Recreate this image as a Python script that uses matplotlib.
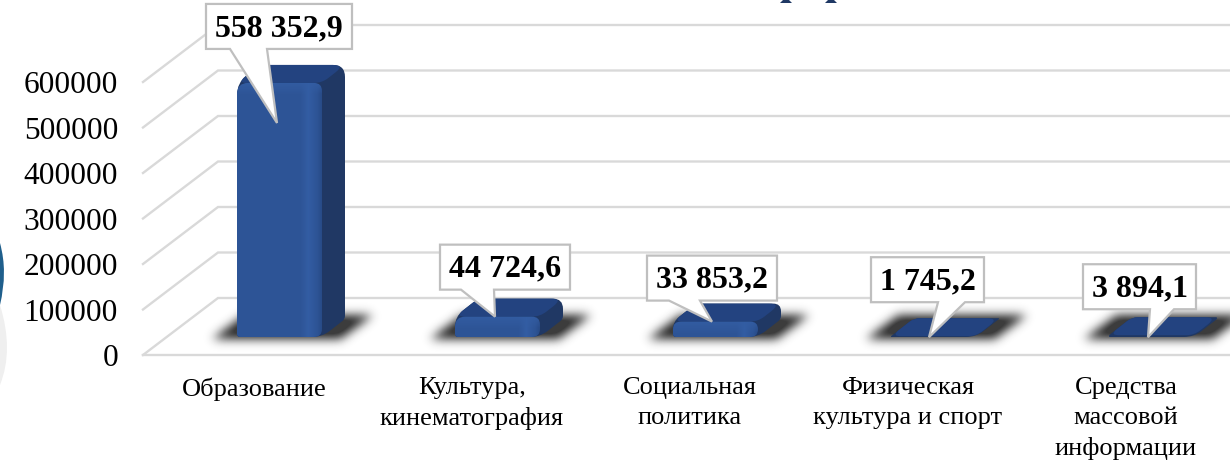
import numpy as np
import matplotlib
matplotlib.use("Agg")
import matplotlib.pyplot as plt
from matplotlib.path import Path
from matplotlib.patches import PathPatch, Polygon
from matplotlib.transforms import IdentityTransform

categories = ["Образование", "Культура,\nкинематография", "Социальная\nполитика",
              "Физическая\nкультура и спорт", "Средства\nмассовой\nинформации"]
values = [558352.9, 44724.6, 33853.2, 1745.2, 3894.1]
y_ticks = [0, 100000, 200000, 300000, 400000, 500000, 600000]

W, H = 1230, 465
plt.rcParams["font.family"] = ["Liberation Serif", "DejaVu Serif"]
fig = plt.figure(figsize=(W / 100, H / 100), dpi=100)

# front plane of the fake 3d box, in pixels from the top left of the picture
left, right, y_zero, y_top = 143, 1230, 355, 82
ax = fig.add_axes([left / W, 1 - y_zero / H, (right - left) / W, (y_zero - y_top) / H])
ax.set_xlim((left - 254) / 218, (right - 254) / 218)
ax.set_ylim(0, 600000)
for s in ax.spines.values():
    s.set_visible(False)
ax.patch.set_alpha(0)

ident = IdentityTransform()
GRID = "#d9d9d9"
# floor depth of the box and of the bars
box_dx, box_dy = 75, 57
bar_off = (25.5, 18)
bar_dx, bar_dy = 23, 18
bar_w = 85


def rounded(points, radii):
    # closed path through the corners, each corner cut with a quadratic curve
    pts = np.array(points, dtype=float)
    n = len(pts)
    verts, codes = [], []
    for k in range(n):
        p, a, b = pts[k], pts[k - 1], pts[(k + 1) % n]
        la, lb = np.linalg.norm(a - p), np.linalg.norm(b - p)
        r = min(radii[k], la / 2, lb / 2)
        p1 = p + (a - p) / max(la, 1e-6) * r
        p2 = p + (b - p) / max(lb, 1e-6) * r
        verts.append(p1)
        codes.append(Path.MOVETO if k == 0 else Path.LINETO)
        verts += [p, p2]
        codes += [Path.CURVE3, Path.CURVE3]
    verts.append(verts[0])
    codes.append(Path.CLOSEPOLY)
    return Path(verts, codes)


def shadow(xl, y0):
    # blurred dark parallelogram on the floor, y0 is the bar base in display pixels
    xs = np.arange(xl - 50, xl + 170)
    ys = np.arange(y0 - 30, y0 + 50)
    gx, gy = np.meshgrid(xs + 0.5, ys + 0.5)
    depth = gy - y0                 # 0 at the bar base, up is positive
    shear = gx - (xl - 22) - depth * 1.35
    mask = ((shear > 0) & (shear < 128) & (depth > -2) & (depth < 22)).astype(float)
    kernel = np.exp(-0.5 * (np.arange(-15, 16) / 5.0) ** 2)
    kernel /= kernel.sum()
    mask = np.apply_along_axis(np.convolve, 0, mask, kernel, mode="same")
    mask = np.apply_along_axis(np.convolve, 1, mask, kernel, mode="same")
    rgba = np.zeros(mask.shape + (4,))
    rgba[..., :3] = 0.15
    rgba[..., 3] = np.clip(mask * 1.05, 0, 0.9)
    ax.imshow(rgba, extent=(xs[0], xs[-1] + 1, ys[0], ys[-1] + 1), origin="lower", aspect="auto",
              transform=ident, zorder=2, interpolation="bilinear", clip_on=False)


def front_gradient(xl, xr, yt, yb):
    # soft bevel on the right plus lighter band along the top
    w, h = max(int(xr - xl), 1), max(int(np.ceil(yt - yb)), 1)
    u = (np.arange(w) + 0.5) / w
    v = np.arange(h) + 0.5
    base = np.array([0.180, 0.333, 0.592])
    light = np.array([0.200, 0.365, 0.640])
    dark = np.array([0.155, 0.290, 0.525])
    rgb = np.tile(base, (h, w, 1))
    stripe = np.clip(1 - np.abs(u - 0.84) / 0.09, 0, 1)[None, :, None]
    rgb = rgb * (1 - stripe) + light * stripe
    edge = np.clip((u - 0.94) / 0.06, 0, 1)[None, :, None]
    rgb = rgb * (1 - edge) + dark * edge
    top = np.clip(1 - v / 12.0, 0, 1)[:, None, None]
    rgb = rgb * (1 - top * 0.9) + light * top * 0.9
    return rgb


# gridlines: left wall and back wall for every tick, then the front edge of the floor
for t in y_ticks:
    p0 = ax.transData.transform((ax.get_xlim()[0], t))
    ax.plot([p0[0], p0[0] + box_dx, W], [p0[1], p0[1] + box_dy, p0[1] + box_dy], color=GRID, lw=1.7,
            transform=ident, zorder=1, clip_on=False, solid_joinstyle="miter")
p0 = ax.transData.transform((ax.get_xlim()[0], 0))
ax.plot([p0[0], W], [p0[1], p0[1]], color=GRID, lw=1.7, transform=ident, zorder=1, clip_on=False)

# bars
anchors = []
for i, v in enumerate(values):
    bx, by0 = ax.transData.transform((i, 0))
    _, byt = ax.transData.transform((i, v))
    xl = bx + bar_off[0] - bar_w / 2
    xr = xl + bar_w
    y0 = by0 + bar_off[1]
    yt = byt + bar_off[1]
    anchors.append((xl, yt))
    shadow(xl, y0)

    sil = [(xl, y0), (xr, y0), (xr + bar_dx, y0 + bar_dy), (xr + bar_dx, yt + bar_dy),
           (xl + bar_dx, yt + bar_dy), (xl, yt)]
    ax.add_patch(PathPatch(rounded(sil, [3, 10, 3, 12, 6, 12]), fc="#203864", ec="none",
                           transform=ident, zorder=3, clip_on=False))
    top = [(xl, yt), (xr, yt), (xr + bar_dx, yt + bar_dy), (xl + bar_dx, yt + bar_dy)]
    ax.add_patch(PathPatch(rounded(top, [10, 8, 12, 6]), fc="#234380", ec="none",
                           transform=ident, zorder=3.1, clip_on=False))
    if yt - y0 > 3:
        face = PathPatch(rounded([(xl, y0), (xr, y0), (xr, yt), (xl, yt)], [3, 8, 8, 11]),
                         fc="none", ec="none", transform=ident, zorder=3.2, clip_on=False)
        ax.add_patch(face)
        im = ax.imshow(front_gradient(xl, xr, yt, y0),
                       extent=(xl, xr, y0, yt), aspect="auto", transform=ident, zorder=3.2,
                       interpolation="bilinear")
        im.set_clip_path(face)

ax.set_xlim((left - 254) / 218, (right - 254) / 218)
ax.set_ylim(0, 600000)

# callouts: tip below the bar anchor, box and pointer base relative to the tip
tip_off = [(40, 40), (40, 0), (39, 0), (38, 1), (39, 2)]
box_off = [(-71, -119, 146), (-55, -72, 130), (-65, -66, 130), (-58, -80, 113), (-65, -73, 113)]
base_off = [(-47, -10), (-34, -1), (-43, -12), (9, 36), (2, 26)]
box_h = 45
for i, v in enumerate(values):
    xa, ya = anchors[i]
    tx, ty = xa + tip_off[i][0], ya - tip_off[i][1]
    bl, bt, bw = box_off[i]
    x0, x1 = tx + bl, tx + bl + bw
    ytop, ybot = ty - bt, ty - bt - box_h
    b0, b1 = tx + base_off[i][0], tx + base_off[i][1]
    shape = [(x0, ytop), (x1, ytop), (x1, ybot), (b1, ybot), (tx, ty), (b0, ybot), (x0, ybot)]
    ax.add_patch(Polygon(shape, closed=True, fc="white", ec="#bfbfbf", lw=1.6, transform=ident,
                         zorder=5, clip_on=False, joinstyle="miter"))
    label = f"{v:,.1f}".replace(",", " ").replace(".", ",")
    ax.text((x0 + x1) / 2, (ytop + ybot) / 2 - 2, label, transform=ident, ha="center", va="center",
            fontsize=23, fontweight="bold", color="black", zorder=6, clip_on=False)

ax.set_yticks(y_ticks)
ax.set_yticklabels([str(t) for t in y_ticks], fontsize=22.6, color="black")
ax.set_xticks(range(len(categories)))
ax.set_xticklabels(categories, fontsize=19, color="black", linespacing=1.45)
ax.tick_params(axis="both", length=0)
ax.tick_params(axis="y", pad=18)
ax.tick_params(axis="x", pad=16)

# bits of what surrounds the chart on the slide: cut off title and left ornament
for cx in [786, 831]:
    fig.add_artist(Polygon([(cx - 6, H - 3), (cx + 6, H - 3), (cx + 3, H), (cx - 3, H)], closed=True,
                           fc="#1f3864", ec="none", transform=ident))
fig.add_artist(PathPatch(Path([(0, H - 243), (8, H - 272), (0, H - 305), (0, H - 243)],
                              [Path.MOVETO, Path.CURVE3, Path.CURVE3, Path.CLOSEPOLY]),
                         fc="#1f5f8c", ec="none", transform=ident))
fig.add_artist(PathPatch(Path([(0, H - 305), (14, H - 350), (0, H - 385), (0, H - 305)],
                              [Path.MOVETO, Path.CURVE3, Path.CURVE3, Path.CLOSEPOLY]),
                         fc="#efefef", ec="none", transform=ident))

fig.savefig("out.png", dpi=100)
